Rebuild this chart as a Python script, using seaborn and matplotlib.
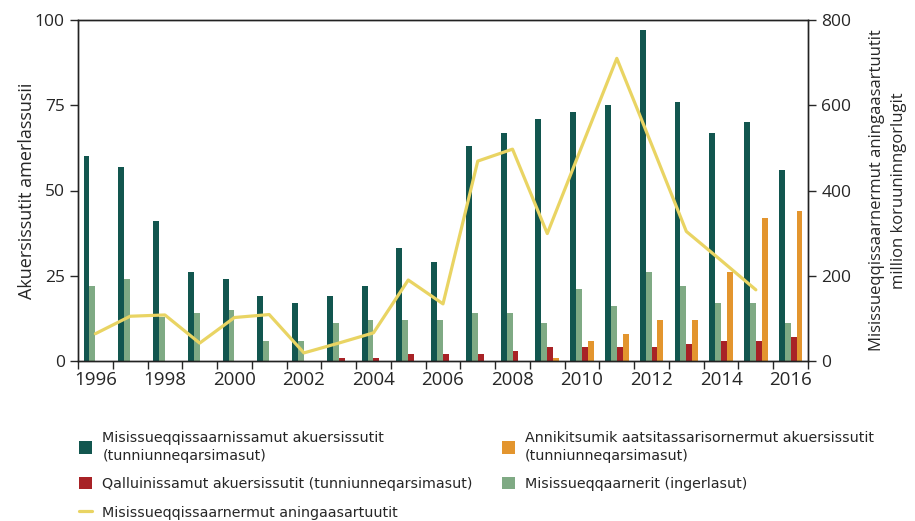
import numpy as np
import pandas as pd
import matplotlib
matplotlib.use("Agg")
import matplotlib.pyplot as plt
import seaborn as sns

years = list(range(1996, 2017))
exploration_granted = [60, 57, 41, 26, 24, 19, 17, 19, 22, 33, 29, 63, 67, 71, 73, 75, 97, 76, 67, 70, 56]
prospecting_active = [22, 24, 13, 14, 15, 6, 6, 11, 12, 12, 12, 14, 14, 11, 21, 16, 26, 22, 17, 17, 11]
quarry_granted = [0, 0, 0, 0, 0, 0, 0, 1, 1, 2, 2, 2, 3, 4, 4, 4, 4, 5, 6, 6, 7]
small_scale_granted = [0, 0, 0, 0, 0, 0, 0, 0, 0, 0, 0, 0, 0, 1, 6, 8, 12, 12, 26, 42, 44]
exploration_spending = [64, 105, 108, 42, 102, 109, 19, 42, 66, 190, 134, 469, 497, 299, 505, 710, 508, 304, 236, 167, np.nan]

lbl_expl = "Misissueqqissaarnissamut akuersissutit\n(tunniunneqarsimasut)"
lbl_prosp = "Misissueqqaarnerit (ingerlasut)"
lbl_quarry = "Qalluinissamut akuersissutit (tunniunneqarsimasut)"
lbl_small = "Annikitsumik aatsitassarisornermut akuersissutit\n(tunniunneqarsimasut)"
lbl_spend = "Misissueqqissaarnermut aningaasartuutit"

colors = {lbl_expl: "#12564F", lbl_prosp: "#7FAA84", lbl_quarry: "#A82226", lbl_small: "#E3952E"}
line_color = "#E9D463"

df = pd.concat([
    pd.DataFrame({"year": years, "series": lbl_expl, "value": exploration_granted}),
    pd.DataFrame({"year": years, "series": lbl_prosp, "value": prospecting_active}),
    pd.DataFrame({"year": years, "series": lbl_quarry, "value": quarry_granted}),
    pd.DataFrame({"year": years, "series": lbl_small, "value": small_scale_granted}),
])

sns.set_style("ticks")
plt.rcParams["font.family"] = ["Open Sans", "DejaVu Sans"]

fig = plt.figure(figsize=(9.15, 5.21), dpi=100)
ax = fig.add_axes([78 / 915, 1 - 361 / 521, 730 / 915, 341 / 521])

sns.barplot(data=df, x="year", y="value", hue="series", palette=colors,
            hue_order=[lbl_expl, lbl_prosp, lbl_quarry, lbl_small],
            width=0.68, saturation=1, errorbar=None, linewidth=0, ax=ax)
handles, labels = ax.get_legend_handles_labels()
ax.get_legend().remove()

ax2 = ax.twinx()
pos = np.arange(len(years))
sns.lineplot(x=pos, y=exploration_spending, color=line_color, linewidth=2.3,
             ax=ax2, label=lbl_spend, legend=False)
line_handle = ax2.get_lines()[0]

ax.set_xlim(-0.5, len(years) - 0.5)
ax.set_ylim(0, 100)
ax2.set_ylim(0, 800)
ax.set_yticks([0, 25, 50, 75, 100])
ax2.set_yticks([0, 200, 400, 600, 800])

even = [i for i, y in enumerate(years) if y % 2 == 0]
ax.set_xticks(even)
ax.set_xticklabels([str(years[i]) for i in even])
ax.set_xticks(np.arange(-0.5, len(years) + 0.5, 1), minor=True)
ax.tick_params(axis="x", which="major", length=0, labelsize=13.5, pad=7)
ax.tick_params(axis="x", which="minor", length=6, width=1, direction="out")
ax.tick_params(axis="y", length=6, width=1, labelsize=12.5)
ax2.tick_params(axis="y", length=6, width=1, labelsize=12.5)

ax.set_xlabel("")
ax.set_ylabel("Akuersissutit amerlassusii", fontsize=13, labelpad=-1)
ax2.set_ylabel("Misissueqqissaarnermut aningaasartuutit\nmillion koruuninngorlugit",
               fontsize=12, labelpad=13, linespacing=1.45)

for a in (ax, ax2):
    for s in a.spines.values():
        s.set_visible(True)
        s.set_linewidth(1)
        s.set_color("#222222")

hmap = dict(zip(labels, handles))
leg_handles = [hmap[lbl_expl], hmap[lbl_quarry], line_handle, hmap[lbl_small], hmap[lbl_prosp]]
leg_labels = [lbl_expl, lbl_quarry, lbl_spend, lbl_small, lbl_prosp]
leg = fig.legend(leg_handles, leg_labels, ncol=2, loc="upper left",
                 bbox_to_anchor=(66 / 915, 1 - 418 / 521), frameon=False,
                 prop={"family": ["DejaVu Sans"], "size": 10.3},
                 handlelength=0.95, handleheight=0.95, handletextpad=0.7,
                 columnspacing=2.0, labelspacing=1.0)
for t in leg.get_texts():
    t.set_linespacing(1.35)

fig.savefig("out.png", dpi=100)
